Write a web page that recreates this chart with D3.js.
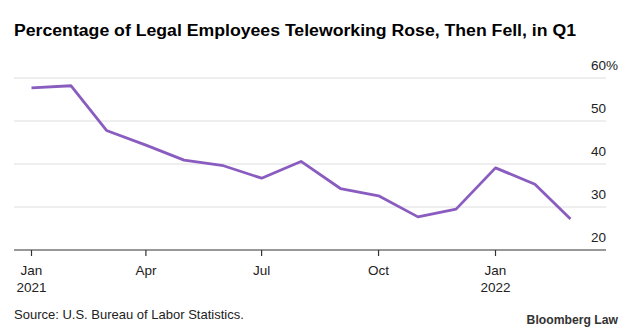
<!DOCTYPE html>
<html><head><meta charset="utf-8">
<script src="https://cdn.jsdelivr.net/npm/d3@7"></script>
<style>body{margin:0;background:#fff;} svg{display:block;font-family:"Liberation Sans",Arial,sans-serif;}</style>
</head><body>
<svg id="c" width="633" height="334"></svg>
<script>
const months = ["2021-01","2021-02","2021-03","2021-04","2021-05","2021-06","2021-07","2021-08","2021-09","2021-10","2021-11","2021-12","2022-01","2022-02","2022-03"];
const telework = [57.7,58.2,47.8,44.4,40.9,39.6,36.7,40.6,34.3,32.6,27.7,29.5,39.1,35.3,27.2];
const yTicks = [20,30,40,50,60];
const xTicks = [["2021-01","Jan","2021"],["2021-04","Apr",""],["2021-07","Jul",""],["2021-10","Oct",""],["2022-01","Jan","2022"]];

const parse = d3.timeParse("%Y-%m");
const svg = d3.select("#c");
const mLeft = 14, mRight = 606, mTop = 78, mBottom = 250;
const x = d3.scaleTime().domain([parse("2021-01"), parse("2022-01")]).range([31.5, 495.5]);
const y = d3.scaleLinear().domain([20,60]).range([mBottom, mTop]);

svg.append("text").attr("x",14).attr("y",36).attr("font-size",16).attr("font-weight","bold").attr("fill","#000")
  .attr("textLength",562).attr("lengthAdjust","spacingAndGlyphs")
  .text("Percentage of Legal Employees Teleworking Rose, Then Fell, in Q1");

const g = svg.append("g");
g.selectAll("line.grid").data(yTicks.filter(t=>t>20)).join("line")
  .attr("x1",mLeft).attr("x2",mRight).attr("y1",d=>y(d)).attr("y2",d=>y(d))
  .attr("stroke","#dedede").attr("stroke-width",1);
g.selectAll("text.yl").data(yTicks).join("text")
  .attr("x",mRight).attr("y",d=>y(d)-8).attr("text-anchor","end").attr("font-size",13.5).attr("fill","#222")
  .text(d=>d);
g.append("text").attr("x",mRight).attr("y",y(60)-8).attr("font-size",13.5).attr("fill","#222").text("%");

// axis baseline
g.append("line").attr("x1",mLeft).attr("x2",mRight).attr("y1",mBottom).attr("y2",mBottom).attr("stroke","#333").attr("stroke-width",1.2);
const xt = g.selectAll("g.xt").data(xTicks).join("g").attr("transform",d=>`translate(${x(parse(d[0]))},0)`);
xt.append("line").attr("y1",mBottom).attr("y2",mBottom+6).attr("stroke","#333").attr("stroke-width",1.2);
xt.append("text").attr("y",mBottom+25).attr("text-anchor","middle").attr("font-size",13.5).attr("fill","#222").text(d=>d[1]);
xt.append("text").attr("y",mBottom+42).attr("text-anchor","middle").attr("font-size",13.5).attr("fill","#222").text(d=>d[2]);

const line = d3.line().x((d,i)=>x(parse(months[i]))).y(d=>y(d));
svg.append("path").datum(telework).attr("d",line).attr("fill","none").attr("stroke","#8a5cc0").attr("stroke-width",2.8).attr("stroke-linejoin","round");

svg.append("text").attr("x",14).attr("y",319).attr("font-size",13).attr("fill","#222").text("Source: U.S. Bureau of Labor Statistics.");
svg.append("text").attr("x",618).attr("y",324).attr("text-anchor","end").attr("font-size",12.2).attr("font-weight","bold").attr("fill","#333").text("Bloomberg Law");
</script>
</body></html>
